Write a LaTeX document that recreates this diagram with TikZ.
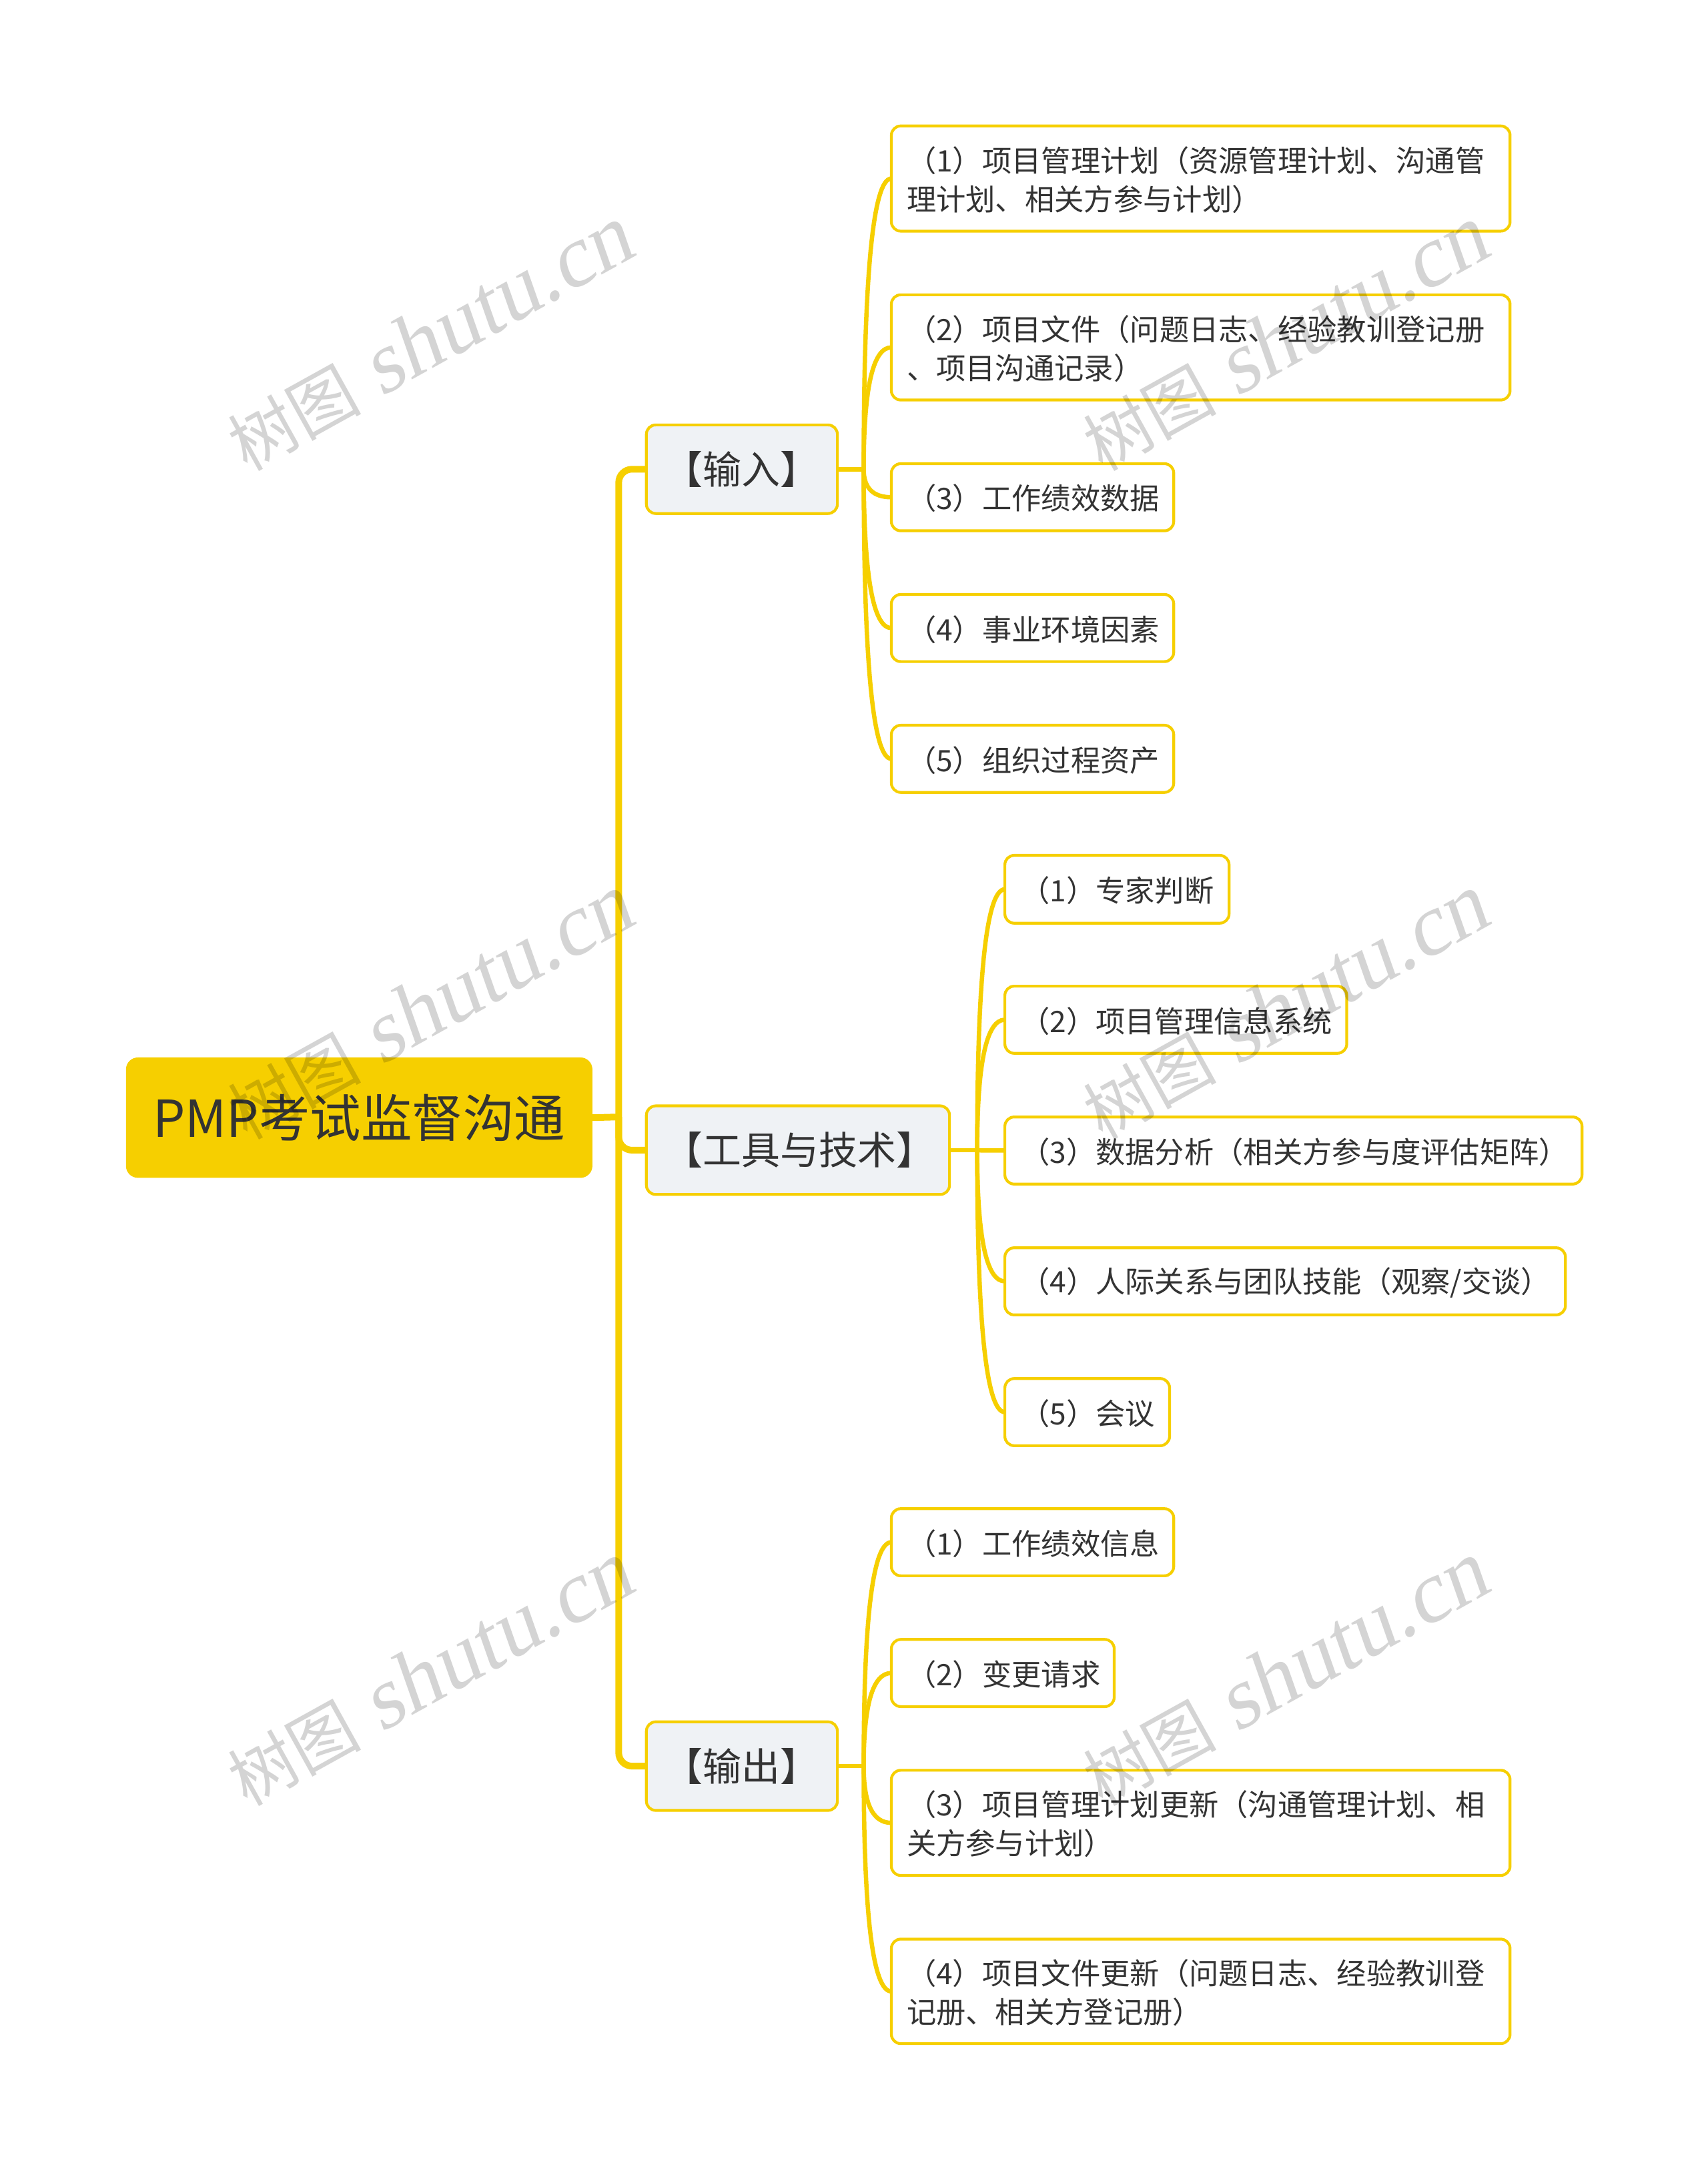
\documentclass[tikz,border=0pt]{standalone}
\usepackage{fontspec}
\usetikzlibrary{calc}
\setmainfont{Noto Sans CJK SC}
\newfontfamily\wmlatin[FakeSlant=0.17]{Liberation Serif}
\definecolor{mindyellow}{HTML}{F6CF00}
\definecolor{midfill}{HTML}{EFF2F5}
\definecolor{inktext}{HTML}{333333}
\def\U{2.0745pt}
\tikzset{
  x=2.0745pt,y=-2.0745pt,
  basebox/.style={rounded corners=14pt,align=left,text=inktext,inner ysep=0pt,outer sep=0pt},
  leafbox/.style={basebox,draw=mindyellow,line width=4.2pt,fill=white,inner xsep=23pt,font=\fontsize{44.3}{58}\selectfont,execute at begin node={\rule{0pt}{.94em}}},
  midbox/.style={basebox,draw=mindyellow,line width=4.2pt,fill=midfill,inner xsep=23pt,font=\fontsize{58}{70}\selectfont,execute at begin node={\hspace*{4pt}}},
  rootbox/.style={basebox,fill=mindyellow,inner xsep=40pt,font=\fontsize{76.5}{90}\selectfont,rounded corners=18pt},
  trunkline/.style={draw=mindyellow,line width=10pt},
  twigline/.style={draw=mindyellow,line width=6.5pt},
  watermark/.style={rotate=29,text=black,text opacity=.17},
}
% style, name, x1, y1, x2, y2, text
\newcommand{\boxnode}[7]{\node[#1,anchor=west,minimum width={(#5-#3)*\U},text width={(#5-#3)*\U-46pt},minimum height={(#6-#4)*\U}] (#2) at (#3,{(#4+#6)/2}) {#7};}
\newcommand{\twig}[2]{\draw[twigline] (#1) .. controls ($(#1)!.667!(#1 |- #2.west)$) and ($(#2.west)!.667!(#1 |- #2.west)$) .. (#2.west);}
\newcommand{\wmark}[3]{\node[watermark] (#1) at (#2,#3) {\fontsize{100}{110}\selectfont 树图\hspace{30pt}{\wmlatin\fontsize{131}{140}\selectfont shutu.cn}};}
\begin{document}
\begin{tikzpicture}
\useasboundingbox (0,0) rectangle (1234,1567.1);
\fill[white] (0,0) rectangle (1234,1567.1);
\coordinate (trunk) at (447,807);
\coordinate (hubin) at (624,339);
\coordinate (hubtool) at (706,831);
\coordinate (hubout) at (624,1276);
\node[rootbox,anchor=west,minimum width={(428-91)*\U},minimum height={(851-764)*\U},align=center] (root) at (91,807.5) {PMP考试监督沟通};
\boxnode{midbox}{input}{467}{307}{605}{371}{【输入】}
\boxnode{midbox}{tools}{467}{799}{686}{863}{【工具与技术】}
\boxnode{midbox}{output}{467}{1244}{605}{1308}{【输出】}
\boxnode{leafbox}{a1}{644}{91}{1091}{167}{（1）项目管理计划（资源管理计划、沟通管\\理计划、相关方参与计划）}
\boxnode{leafbox}{a2}{644}{213}{1091}{289}{（2）项目文件（问题日志、经验教训登记册\\、项目沟通记录）}
\boxnode{leafbox}{a3}{644}{335}{848}{383.5}{（3）工作绩效数据}
\boxnode{leafbox}{a4}{644}{429.5}{848}{478}{（4）事业环境因素}
\boxnode{leafbox}{a5}{644}{524}{848}{572.5}{（5）组织过程资产}
\boxnode{leafbox}{b1}{726}{618}{888}{667}{（1）专家判断}
\boxnode{leafbox}{b2}{726}{712.5}{973}{761}{（2）项目管理信息系统}
\boxnode{leafbox}{b3}{726}{807}{1143}{855.5}{（3）数据分析（相关方参与度评估矩阵）}
\boxnode{leafbox}{b4}{726}{901.5}{1131}{950}{（4）人际关系与团队技能（观察/交谈）}
\boxnode{leafbox}{b5}{726}{996}{845}{1044.5}{（5）会议}
\boxnode{leafbox}{c1}{644}{1090}{848}{1138.5}{（1）工作绩效信息}
\boxnode{leafbox}{c2}{644}{1184.5}{805}{1233}{（2）变更请求}
\boxnode{leafbox}{c3}{644}{1279}{1091}{1355}{（3）项目管理计划更新（沟通管理计划、相\\关方参与计划）}
\boxnode{leafbox}{c4}{644}{1401}{1091}{1476.5}{（4）项目文件更新（问题日志、经验教训登\\记册、相关方登记册）}
\draw[trunkline] (root.east) -- (trunk);
\draw[trunkline,rounded corners=20pt] (trunk) |- (input.west);
\draw[trunkline,rounded corners=20pt] (trunk) |- (tools.west);
\draw[trunkline,rounded corners=20pt] (trunk) |- (output.west);
\draw[twigline] (input.east) -- (hubin);
\draw[twigline] (tools.east) -- (hubtool);
\draw[twigline] (output.east) -- (hubout);
\twig{hubin}{a1}\twig{hubin}{a2}\twig{hubin}{a3}\twig{hubin}{a4}\twig{hubin}{a5}
\twig{hubtool}{b1}\twig{hubtool}{b2}\twig{hubtool}{b3}\twig{hubtool}{b4}\twig{hubtool}{b5}
\twig{hubout}{c1}\twig{hubout}{c2}\twig{hubout}{c3}\twig{hubout}{c4}
\wmark{w1}{310}{245}\wmark{w2}{928}{245}
\wmark{w3}{310}{728}\wmark{w4}{928}{728}
\wmark{w5}{310}{1210}\wmark{w6}{928}{1210}
\end{tikzpicture}
\end{document}
